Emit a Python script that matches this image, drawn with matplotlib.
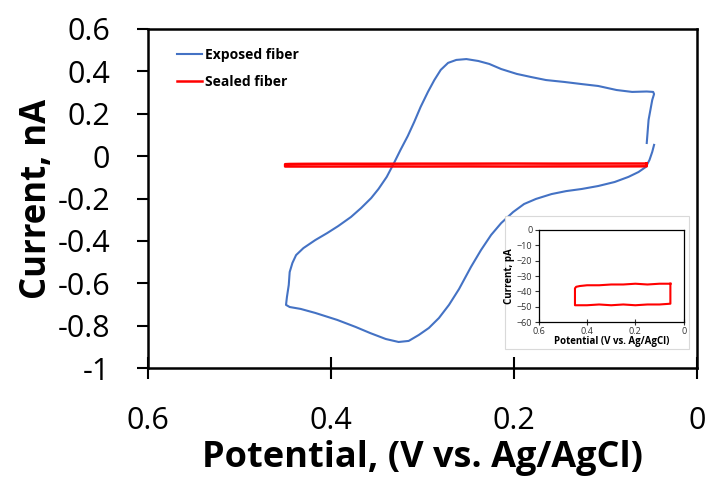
import matplotlib
matplotlib.use('Agg')
import matplotlib.pyplot as plt
from matplotlib.patches import Rectangle

plt.rcParams['font.family'] = ['Open Sans', 'DejaVu Sans']

# exposed fiber CV (V vs Ag/AgCl, nA)
exp_v = [0.055, 0.053, 0.049, 0.047, 0.048, 0.055, 0.071, 0.088, 0.108, 0.126,
         0.145, 0.165, 0.181, 0.197, 0.214, 0.227, 0.239, 0.252, 0.263, 0.272,
         0.280, 0.287, 0.294, 0.302, 0.309, 0.316, 0.324, 0.331, 0.339, 0.348,
         0.356, 0.367, 0.378, 0.392, 0.404, 0.417, 0.430, 0.438, 0.442, 0.445,
         0.446, 0.448, 0.449, 0.445, 0.433, 0.417, 0.393, 0.373, 0.357, 0.340,
         0.326, 0.315, 0.304, 0.293, 0.282, 0.271, 0.260, 0.247, 0.236, 0.225,
         0.214, 0.201, 0.189, 0.176, 0.159, 0.143, 0.126, 0.108, 0.090, 0.075,
         0.064, 0.056, 0.052, 0.049, 0.047]
exp_i = [0.062, 0.171, 0.265, 0.293, 0.303, 0.305, 0.303, 0.312, 0.331, 0.340,
         0.350, 0.359, 0.373, 0.388, 0.411, 0.435, 0.449, 0.458, 0.454, 0.440,
         0.407, 0.359, 0.303, 0.232, 0.161, 0.095, 0.029, -0.032, -0.098, -0.155,
         -0.198, -0.245, -0.287, -0.330, -0.363, -0.396, -0.434, -0.467, -0.504, -0.547,
         -0.608, -0.665, -0.702, -0.712, -0.721, -0.740, -0.773, -0.806, -0.835, -0.863,
         -0.877, -0.872, -0.844, -0.811, -0.764, -0.702, -0.627, -0.523, -0.443, -0.372,
         -0.316, -0.264, -0.226, -0.202, -0.179, -0.165, -0.155, -0.141, -0.122, -0.098,
         -0.075, -0.051, -0.018, 0.020, 0.053]

# sealed fiber CV (V, pA)
seal_v = [0.055, 0.10, 0.15, 0.20, 0.25, 0.30, 0.35, 0.40, 0.43, 0.445, 0.45,
          0.45, 0.40, 0.35, 0.30, 0.25, 0.20, 0.15, 0.10, 0.055, 0.055]
seal_pa = [-35, -35, -35.5, -35, -35.5, -35.5, -36, -36, -36.5, -37, -38,
           -49, -49, -48.5, -49, -48.5, -49, -48.5, -48.5, -48, -35]
seal_i = [p / 1000 for p in seal_pa]

fig = plt.figure(figsize=(7.07, 4.83), dpi=100)
ax = fig.add_axes([0.209, 0.238, 0.777, 0.702])
ax.plot(exp_v, exp_i, color='#4472C4', lw=1.5, label='Exposed fiber')
ax.plot(seal_v, seal_i, color='#FF0000', lw=1.8, label='Sealed fiber')
ax.set_xlim(0.6, 0)
ax.set_ylim(-1, 0.6)
ax.set_xticks([0.6, 0.4, 0.2, 0])
ax.set_xticklabels(['0.6', '0.4', '0.2', '0'])
ax.set_yticks([0.6, 0.4, 0.2, 0, -0.2, -0.4, -0.6, -0.8, -1])
ax.set_yticklabels(['0.6', '0.4', '0.2', '0', '-0.2', '-0.4', '-0.6', '-0.8', '-1'])
ax.tick_params(axis='both', labelsize=22, width=1.5)
ax.tick_params(axis='x', direction='inout', length=16, pad=19)
ax.tick_params(axis='y', direction='out', length=8, pad=19)
for s in ax.spines.values():
    s.set_linewidth(1.8)
ax.set_xlabel('Potential, (V vs. Ag/AgCl)', fontsize=26, fontweight='bold', labelpad=3)
ax.set_ylabel('Current, nA', fontsize=25, fontweight='bold', labelpad=2)
ax.legend(loc='upper left', frameon=False, handlelength=1.8,
          handletextpad=0.2, labelspacing=0.9, bbox_to_anchor=(0.03, 0.98),
          prop={'weight': 'bold', 'size': 10})

# inset with the sealed fiber only
fig.patches.append(Rectangle((505 / 707, 1 - 349 / 483), 184 / 707, 133 / 483,
                             transform=fig.transFigure, facecolor='white',
                             edgecolor='#D9D9D9', lw=0.8, zorder=2))
ins = fig.add_axes([0.762, 0.333, 0.205, 0.191], zorder=3)
ins.plot(seal_v, seal_pa, color='#FF0000', lw=1.5)
ins.set_xlim(0.6, 0)
ins.set_ylim(-60, 0)
ins.set_xticks([0.6, 0.4, 0.2, 0])
ins.set_xticklabels(['0.6', '0.4', '0.2', '0'])
ins.set_yticks(range(-60, 1, 10))
ins.tick_params(labelsize=6.5, width=0.8, length=3, pad=1.5, colors='#333333')
ins.tick_params(axis='x', direction='inout', length=4)
for s in ins.spines.values():
    s.set_linewidth(0.9)
ins.set_xlabel('Potential (V vs. Ag/AgCl)', fontsize=7, fontweight='bold', labelpad=0)
ins.set_ylabel('Current, pA', fontsize=7, fontweight='bold', labelpad=1)

plt.savefig('out.png', dpi=100)
